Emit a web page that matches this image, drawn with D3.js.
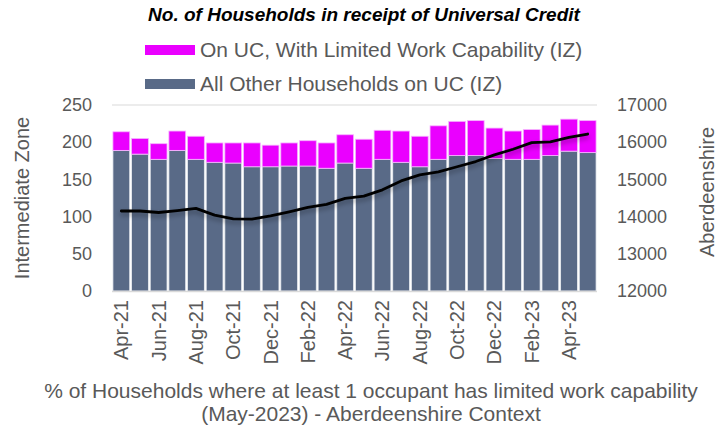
<!DOCTYPE html>
<html>
<head>
<meta charset="utf-8">
<script src="https://cdn.jsdelivr.net/npm/d3@7"></script>
<style>
  body { margin: 0; background: #fff; }
  text { font-family: "Liberation Sans", Arial, sans-serif; }
</style>
</head>
<body>
<div id="chart"></div>
<script>
// Data
const months = ["Apr-21","May-21","Jun-21","Jul-21","Aug-21","Sep-21","Oct-21","Nov-21","Dec-21",
  "Jan-22","Feb-22","Mar-22","Apr-22","May-22","Jun-22","Jul-22","Aug-22","Sep-22","Oct-22","Nov-22","Dec-22",
  "Jan-23","Feb-23","Mar-23","Apr-23","May-23"];
const otherUC = [189,184,177,189,177,173,172,167,167,168,168,165,172,165,177,173,167,177,182,182,178,177,177,182,188,186];
const limitedWork = [25,21,21,26,31,26,27,32,29,31,34,34,38,39,39,42,41,45,46,47,41,38,40,41,43,43];
const aberdeenshire = [14150,14150,14110,14160,14220,14040,13940,13930,14020,14130,14250,14330,14490,14550,14720,14960,15120,15200,15340,15480,15660,15810,15990,16010,16130,16220];
const leftTicks = [0,50,100,150,200,250];
const rightTicks = [12000,13000,14000,15000,16000,17000];

const W = 724, H = 431;
const plot = { left: 112, right: 597, top: 105, bottom: 291 };
const textCol = "#595959";

const svg = d3.select("#chart").append("svg")
    .attr("width", W)
    .attr("height", H);

// drop shadow for the line
const defs = svg.append("defs");
const f = defs.append("filter").attr("id", "shadow")
    .attr("x", "-10%").attr("y", "-50%").attr("width", "120%").attr("height", "200%");
f.append("feDropShadow").attr("dx", 0).attr("dy", 3).attr("stdDeviation", 2.5)
    .attr("flood-color", "#000").attr("flood-opacity", 0.35);

const x = d3.scaleBand()
    .domain(months)
    .range([plot.left, plot.right])
    .paddingInner(0.1)
    .paddingOuter(0.05);

const yL = d3.scaleLinear().domain([0, 250]).range([plot.bottom, plot.top]);
const yR = d3.scaleLinear().domain([12000, 17000]).range([plot.bottom, plot.top]);

// top gridline
svg.append("line")
    .attr("x1", plot.left).attr("x2", plot.right)
    .attr("y1", yL(250)).attr("y2", yL(250))
    .attr("stroke", "#d9d9d9").attr("stroke-width", 1);

// stacked bars
const rows = months.map((m, i) => ({ month: m, other: otherUC[i], lwc: limitedWork[i] }));
const stack = d3.stack().keys(["other", "lwc"])(rows);
const colors = { other: "#596a87", lwc: "#ea00ff" };
const strokes = { other: "#e8ebf0", lwc: "#f6b3ff" };

stack.forEach(layer => {
    svg.append("g").selectAll("rect")
        .data(layer)
        .join("rect")
        .attr("x", d => x(d.data.month))
        .attr("y", d => yL(d[1]))
        .attr("width", x.bandwidth())
        .attr("height", d => yL(d[0]) - yL(d[1]))
        .attr("fill", colors[layer.key])
        .attr("stroke", strokes[layer.key])
        .attr("stroke-width", 0.8);
});

// baseline
svg.append("line")
    .attr("x1", plot.left).attr("x2", plot.right)
    .attr("y1", plot.bottom + 0.5).attr("y2", plot.bottom + 0.5)
    .attr("stroke", "#d9d9d9").attr("stroke-width", 1.5);

// Aberdeenshire line
const line = d3.line()
    .x((d, i) => x(months[i]) + x.bandwidth() / 2)
    .y(d => yR(d));

svg.append("path")
    .datum(aberdeenshire)
    .attr("d", line)
    .attr("fill", "none")
    .attr("stroke", "#000")
    .attr("stroke-width", 2.8)
    .attr("stroke-linejoin", "round")
    .attr("stroke-linecap", "round")
    .attr("filter", "url(#shadow)");

// left axis
const axL = svg.append("g")
    .attr("transform", `translate(${plot.left},0)`)
    .call(d3.axisLeft(yL).tickValues(leftTicks).tickSize(0).tickPadding(20));
axL.select(".domain").remove();
axL.selectAll("text").attr("font-size", 18).attr("fill", textCol)
    .style("font-family", "Liberation Sans, Arial, sans-serif");

// right axis
const axR = svg.append("g")
    .attr("transform", `translate(${plot.right},0)`)
    .call(d3.axisRight(yR).tickValues(rightTicks).tickFormat(d3.format("d")).tickSize(0).tickPadding(20));
axR.select(".domain").remove();
axR.selectAll("text").attr("font-size", 18).attr("fill", textCol)
    .style("font-family", "Liberation Sans, Arial, sans-serif");

// x axis labels, every second month
const axX = svg.append("g")
    .attr("transform", `translate(0,${plot.bottom})`)
    .call(d3.axisBottom(x).tickValues(months.filter((m, i) => i % 2 === 0)).tickSize(0));
axX.select(".domain").remove();
axX.selectAll("text")
    .attr("font-size", 20)
    .attr("fill", textCol)
    .style("font-family", "Liberation Sans, Arial, sans-serif")
    .attr("text-anchor", "end")
    .attr("dy", "0.35em")
    .attr("transform", "translate(0,9) rotate(-90)")
    .attr("x", 0).attr("y", 0);

// axis titles
svg.append("text")
    .attr("transform", `translate(29,${(plot.top + plot.bottom) / 2}) rotate(-90)`)
    .attr("text-anchor", "middle")
    .attr("font-size", 20).attr("fill", textCol)
    .text("Intermediate Zone");

svg.append("text")
    .attr("transform", `translate(714,${(plot.top + plot.bottom) / 2 - 6}) rotate(-90)`)
    .attr("text-anchor", "middle")
    .attr("font-size", 20).attr("fill", textCol)
    .text("Aberdeenshire");

// title
svg.append("text")
    .attr("x", 364).attr("y", 21)
    .attr("text-anchor", "middle")
    .attr("font-size", 19).attr("font-weight", "bold").attr("font-style", "italic")
    .attr("fill", "#000")
    .text("No. of Households in receipt of Universal Credit");

// legend
const legend = [
    { label: "On UC, With Limited Work Capability (IZ)", color: colors.lwc, y: 50 },
    { label: "All Other Households on UC (IZ)", color: colors.other, y: 84 }
];
legend.forEach(l => {
    svg.append("rect")
        .attr("x", 145).attr("y", l.y - 5)
        .attr("width", 50).attr("height", 10)
        .attr("fill", l.color);
    svg.append("text")
        .attr("x", 200).attr("y", l.y)
        .attr("dy", "0.35em")
        .attr("font-size", 21).attr("fill", textCol)
        .text(l.label);
});

// caption
svg.append("text")
    .attr("x", 371).attr("y", 398)
    .attr("text-anchor", "middle")
    .attr("font-size", 21).attr("fill", textCol)
    .text("% of Households where at least 1 occupant has limited work capability");
svg.append("text")
    .attr("x", 371).attr("y", 421)
    .attr("text-anchor", "middle")
    .attr("font-size", 21).attr("fill", textCol)
    .text("(May-2023) - Aberdeenshire Context");
</script>
</body>
</html>
